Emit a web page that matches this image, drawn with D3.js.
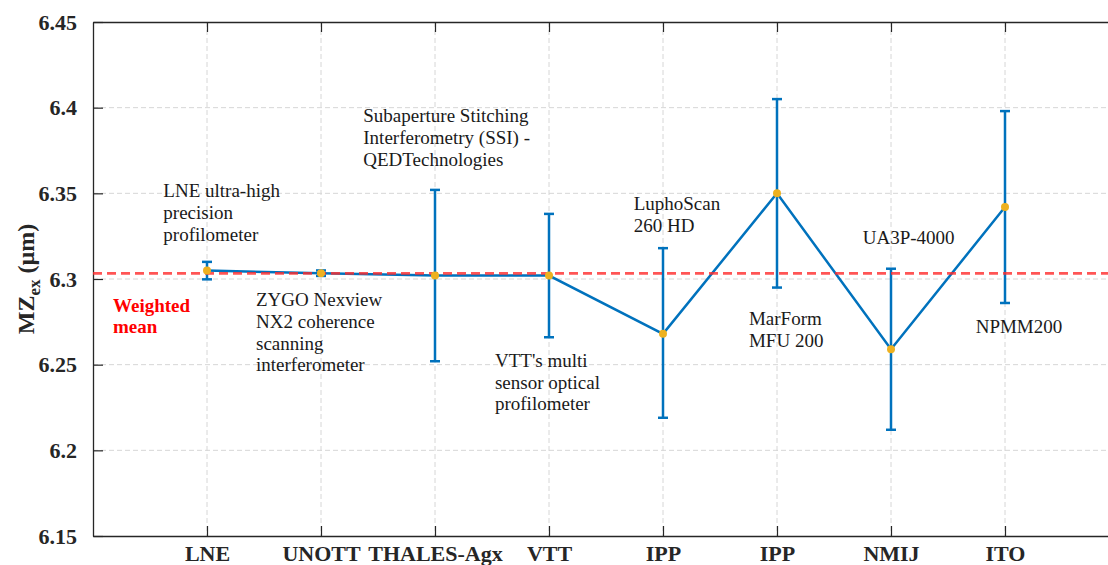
<!DOCTYPE html>
<html>
<head>
<meta charset="utf-8">
<script src="https://cdn.jsdelivr.net/npm/d3@7"></script>
<style>
  body { margin: 0; background: #fff; }
</style>
</head>
<body>
<div class="chart-container"></div>
<script>
// data
const labs = ['LNE', 'UNOTT', 'THALES-Agx', 'VTT', 'IPP', 'IPP', 'NMIJ', 'ITO'];
const mz = [6.305, 6.3033, 6.302, 6.302, 6.268, 6.350, 6.259, 6.342];
const errLo = [6.2998, 6.3018, 6.252, 6.266, 6.219, 6.295, 6.212, 6.286];
const errHi = [6.3100, 6.3050, 6.352, 6.338, 6.318, 6.405, 6.306, 6.398];
const yTicks = [6.15, 6.2, 6.25, 6.3, 6.35, 6.4, 6.45];
const weightedMean = 6.3033;

// instrument annotations (x in category units, y in µm at first baseline)
const notes = [
    { lines: ['LNE ultra-high', 'precision', 'profilometer'], x: 0.617, y: 6.3477 },
    { lines: ['ZYGO Nexview', 'NX2 coherence', 'scanning', 'interferometer'], x: 1.43, y: 6.2842 },
    { lines: ['Subaperture Stitching', 'Interferometry (SSI) -', 'QEDTechnologies'], x: 2.371, y: 6.3915 },
    { lines: ["VTT's multi", 'sensor optical', 'profilometer'], x: 3.526, y: 6.2488 },
    { lines: ['LuphoScan', '260 HD'], x: 4.743, y: 6.3403 },
    { lines: ['MarForm', 'MFU 200'], x: 5.754, y: 6.2732 },
    { lines: ['UA3P-4000'], x: 6.752, y: 6.3204 },
    { lines: ['NPMM200'], x: 7.743, y: 6.2683 }
];

const W = 1108, H = 565;
const m = { left: 93, right: 1119, top: 22, bottom: 536 };
const font = '"Liberation Serif", "Times New Roman", Times, serif';

const svg = d3.select('.chart-container')
    .append('svg')
    .attr('width', W)
    .attr('height', H)
    .style('display', 'block')
    .style('font-family', font);

const x = d3.scaleLinear().domain([0, 9]).range([m.left, m.right]);
const y = d3.scaleLinear().domain([6.15, 6.45]).range([m.bottom, m.top]);
const idx = d3.range(1, labs.length + 1);

// grid
svg.append('g')
    .selectAll('line')
    .data(yTicks.slice(1, -1))
    .enter().append('line')
    .attr('x1', m.left).attr('x2', m.right)
    .attr('y1', d => y(d)).attr('y2', d => y(d))
    .attr('stroke', '#d6d6d6').attr('stroke-width', 1)
    .attr('stroke-dasharray', '5,3');

svg.append('g')
    .selectAll('line')
    .data(idx)
    .enter().append('line')
    .attr('x1', d => x(d)).attr('x2', d => x(d))
    .attr('y1', m.top).attr('y2', m.bottom)
    .attr('stroke', '#d6d6d6').attr('stroke-width', 1)
    .attr('stroke-dasharray', '5,3');

// axes
const axisCol = '#262626';
const gy = svg.append('g')
    .attr('transform', `translate(${m.left},0)`)
    .call(d3.axisLeft(y).tickValues(yTicks).tickSizeInner(-10).tickSizeOuter(0).tickPadding(16)
        .tickFormat(d => String(+d.toFixed(2))));
gy.select('.domain').attr('stroke', axisCol).attr('stroke-width', 1.3);
gy.selectAll('.tick line').attr('stroke', axisCol).attr('stroke-width', 1.2);
gy.selectAll('.tick text')
    .attr('fill', axisCol)
    .style('font-family', font)
    .style('font-size', '22px').style('font-weight', 'bold');

const gx = svg.append('g')
    .attr('transform', `translate(0,${m.bottom})`)
    .call(d3.axisBottom(x).tickValues(idx).tickSizeInner(-10).tickSizeOuter(0).tickPadding(0)
        .tickFormat((d, i) => labs[i]));
gx.select('.domain').attr('stroke', axisCol).attr('stroke-width', 1.3);
gx.selectAll('.tick line').attr('stroke', axisCol).attr('stroke-width', 1.2);
gx.selectAll('.tick text')
    .attr('fill', axisCol)
    .attr('dy', null)
    .attr('y', 25)
    .style('font-family', font)
    .style('font-size', '22px').style('font-weight', 'bold');

const gt = svg.append('g')
    .attr('transform', `translate(0,${m.top})`)
    .call(d3.axisTop(x).tickValues(idx).tickSizeInner(-10).tickSizeOuter(0).tickFormat(''));
gt.select('.domain').attr('stroke', axisCol).attr('stroke-width', 1.3);
gt.selectAll('.tick line').attr('stroke', axisCol).attr('stroke-width', 1.2);

// y label
const yl = svg.append('text')
    .attr('transform', `translate(34,${(m.top + m.bottom) / 2}) rotate(-90)`)
    .attr('text-anchor', 'middle')
    .style('font-family', font)
    .style('font-size', '24px').style('font-weight', 'bold')
    .attr('fill', axisCol);
yl.append('tspan').text('MZ');
yl.append('tspan').style('font-size', '17px').attr('dy', 6).text('ex');
yl.append('tspan').attr('dy', -6).text(' (µm)');

// error bars
const blue = '#0072BD';
const eb = svg.append('g').attr('stroke', blue).attr('stroke-width', 2.5);
eb.selectAll('.v').data(idx).enter().append('line')
    .attr('x1', d => x(d)).attr('x2', d => x(d))
    .attr('y1', (d, i) => y(errLo[i])).attr('y2', (d, i) => y(errHi[i]));
eb.selectAll('.lo').data(idx).enter().append('line')
    .attr('x1', d => x(d) - 5).attr('x2', d => x(d) + 5)
    .attr('y1', (d, i) => y(errLo[i])).attr('y2', (d, i) => y(errLo[i]));
eb.selectAll('.hi').data(idx).enter().append('line')
    .attr('x1', d => x(d) - 5).attr('x2', d => x(d) + 5)
    .attr('y1', (d, i) => y(errHi[i])).attr('y2', (d, i) => y(errHi[i]));

// connecting line
svg.append('path')
    .datum(idx)
    .attr('fill', 'none')
    .attr('stroke', blue)
    .attr('stroke-width', 2.5)
    .attr('d', d3.line().x(d => x(d)).y((d, i) => y(mz[i])));

// weighted mean
svg.append('line')
    .attr('x1', m.left).attr('x2', m.right)
    .attr('y1', y(weightedMean)).attr('y2', y(weightedMean))
    .attr('stroke', '#ff2a2a').attr('stroke-opacity', 0.8)
    .attr('stroke-width', 2.8)
    .attr('stroke-dasharray', '9,5');

svg.append('text')
    .attr('x', 113).attr('y', 312)
    .style('font-family', font)
    .style('font-size', '19px').style('font-weight', 'bold')
    .attr('fill', '#ff0000')
    .selectAll('tspan')
    .data(['Weighted', 'mean'])
    .enter().append('tspan')
    .attr('x', 113)
    .attr('dy', (d, i) => i ? 21 : 0)
    .text(d => d);

// markers
svg.append('g')
    .selectAll('circle')
    .data(idx)
    .enter().append('circle')
    .attr('cx', d => x(d))
    .attr('cy', (d, i) => y(mz[i]))
    .attr('r', 4)
    .attr('fill', '#EDB120');

// annotations
svg.append('g')
    .selectAll('text')
    .data(notes)
    .enter().append('text')
    .style('font-family', font)
    .style('font-size', '19px')
    .attr('fill', '#1a1a1a')
    .attr('x', d => x(d.x))
    .attr('y', d => y(d.y))
    .each(function (d) {
        d3.select(this).selectAll('tspan')
            .data(d.lines)
            .enter().append('tspan')
            .attr('x', x(d.x))
            .attr('dy', (t, i) => i ? 21.8 : 0)
            .text(t => t);
    });
</script>
</body>
</html>
